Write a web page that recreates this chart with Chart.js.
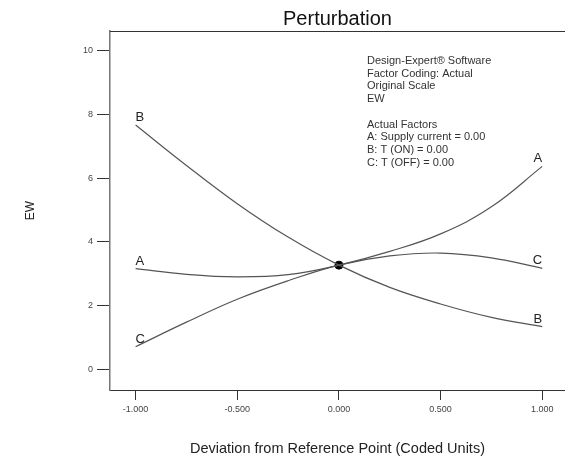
<!DOCTYPE html>
<html>
<head>
<meta charset="utf-8">
<script src="https://cdn.jsdelivr.net/npm/chart.js@4.4.0/dist/chart.umd.min.js"></script>
<style>
    html, body { margin: 0; padding: 0; background: #fff; }
</style>
</head>
<body>
<canvas id="chartPerturbation" width="565" height="468"></canvas>
<script>
// deviation from reference point (coded units)
const deviation = [-1, -0.75, -0.5, -0.25, 0, 0.25, 0.5, 0.75, 1];
const curveA = [3.16, 2.98, 2.90, 2.97, 3.27, 3.70, 4.25, 5.10, 6.37];
const curveB = [7.67, 6.40, 5.20, 4.15, 3.27, 2.57, 2.05, 1.63, 1.34];
const curveC = [0.71, 1.48, 2.20, 2.78, 3.27, 3.56, 3.65, 3.50, 3.17];
const factorNames = ['A', 'B', 'C'];
const refPoint = [0, 3.27];

const xTicks = [-1, -0.5, 0, 0.5, 1];
const yTicks = [0, 2, 4, 6, 8, 10];

const chartTitle = 'Perturbation';
const notes = [
    'Design-Expert® Software',
    'Factor Coding: Actual',
    'Original Scale',
    'EW',
    '',
    'Actual Factors',
    'A: Supply current = 0.00',
    'B: T (ON) = 0.00',
    'C: T (OFF) = 0.00'
];

const FONT = '"Liberation Sans", Arial, sans-serif';

const toPoints = ys => deviation.map((x, i) => ({ x: x, y: ys[i] }));

// title, letters at both ends of each curve, top frame line, info block
const extrasPlugin = {
    id: 'extras',
    afterDatasetsDraw(chart) {
        const ctx = chart.ctx;
        const area = chart.chartArea;
        ctx.save();

        ctx.font = '20px ' + FONT;
        ctx.fillStyle = '#111';
        ctx.textAlign = 'center';
        ctx.textBaseline = 'middle';
        ctx.fillText(chartTitle, (area.left + area.right) / 2, 19);

        ctx.strokeStyle = '#333';
        ctx.lineWidth = 1;
        ctx.beginPath();
        ctx.moveTo(area.left, area.top + 0.5);
        ctx.lineTo(area.right, area.top + 0.5);
        ctx.stroke();

        ctx.font = '13px ' + FONT;
        ctx.fillStyle = '#222';
        ctx.textBaseline = 'alphabetic';
        factorNames.forEach((name, i) => {
            const pts = chart.getDatasetMeta(i).data;
            const first = pts[0];
            const last = pts[pts.length - 1];
            ctx.textAlign = 'left';
            ctx.fillText(name, first.x, first.y - 4);
            ctx.textAlign = 'right';
            ctx.fillText(name, last.x, last.y - 4);
        });

        ctx.font = '11px ' + FONT;
        ctx.fillStyle = '#333';
        ctx.textAlign = 'left';
        ctx.textBaseline = 'middle';
        notes.forEach((t, i) => ctx.fillText(t, 367, 61 + i * 12.7));

        ctx.restore();
    }
};

const lineStyle = { borderColor: '#555', borderWidth: 1.2, pointRadius: 0, tension: 0.4, fill: false };

new Chart(document.getElementById('chartPerturbation'), {
    type: 'line',
    data: {
        datasets: [
            Object.assign({ label: 'A', data: toPoints(curveA) }, lineStyle),
            Object.assign({ label: 'B', data: toPoints(curveB) }, lineStyle),
            Object.assign({ label: 'C', data: toPoints(curveC) }, lineStyle),
            {
                type: 'scatter',
                label: 'ref',
                data: [{ x: refPoint[0], y: refPoint[1] }],
                pointRadius: 4,
                backgroundColor: '#000',
                borderColor: '#000'
            }
        ]
    },
    options: {
        responsive: false,
        animation: false,
        layout: { autoPadding: false, padding: { top: 31, left: 0, right: 0, bottom: 0 } },
        plugins: {
            legend: { display: false },
            tooltip: { enabled: false },
            title: { display: false }
        },
        scales: {
            x: {
                type: 'linear',
                min: -1.126,
                max: 1.112,
                afterFit: s => { s.height = 78; s.paddingLeft = 0; s.paddingRight = 0; },
                afterBuildTicks: s => { s.ticks = xTicks.map(v => ({ value: v })); },
                ticks: {
                    color: '#444',
                    padding: 4,
                    font: { family: FONT, size: 9 },
                    callback: v => v.toFixed(3)
                },
                grid: { drawOnChartArea: false, tickLength: 10, color: '#333' },
                border: { color: '#333', width: 1 },
                title: {
                    display: true,
                    text: 'Deviation from Reference Point (Coded Units)',
                    color: '#222',
                    font: { family: FONT, size: 14.5 },
                    padding: { top: 0, bottom: 10 }
                }
            },
            y: {
                min: -0.65,
                max: 10.62,
                afterFit: s => { s.width = 110; s.paddingTop = 0; s.paddingBottom = 0; },
                afterBuildTicks: s => { s.ticks = yTicks.map(v => ({ value: v })); },
                ticks: {
                    color: '#444',
                    padding: 4,
                    font: { family: FONT, size: 9 }
                },
                grid: { drawOnChartArea: false, tickLength: 13, color: '#333' },
                border: { color: '#777', width: 1.5 },
                title: {
                    display: true,
                    text: 'EW',
                    color: '#222',
                    font: { family: FONT, size: 12 },
                    padding: { top: 23, bottom: 0 }
                }
            }
        }
    },
    plugins: [extrasPlugin]
});
</script>
</body>
</html>
